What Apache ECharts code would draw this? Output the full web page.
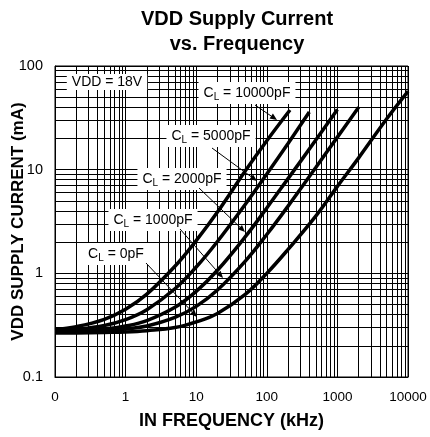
<!DOCTYPE html>
<html>
<head>
<meta charset="utf-8">
<script src="https://cdn.jsdelivr.net/npm/echarts@6/dist/echarts.min.js"></script>
<style>
  html, body { margin: 0; padding: 0; background: #fff; }
  #main { width: 430px; height: 437px; }
</style>
</head>
<body>
<div id="main"></div>
<script>
const FONT = '"Liberation Sans", Arial, sans-serif'

// 读图估计的曲线数据 (kHz, mA)
const freq10000 = [0.1, 0.2, 0.5, 1, 2, 5, 10, 20, 50, 100, 213]
const cur10000 = [0.288, 0.306, 0.36, 0.45, 0.63, 1.17, 2.07, 3.9, 9.8, 19, 37.6]
const freq5000 = [0.1, 0.2, 0.5, 1, 2, 5, 10, 20, 50, 100, 200, 400]
const cur5000 = [0.279, 0.288, 0.314, 0.358, 0.446, 0.71, 1.15, 2.03, 4.67, 9.07, 17.9, 36]
const freq2000 = [0.1, 0.2, 0.5, 1, 2, 5, 10, 20, 50, 100, 200, 500, 1000]
const cur2000 = [0.274, 0.278, 0.29, 0.31, 0.35, 0.47, 0.67, 1.07, 2.27, 4.27, 8.2, 19.5, 38]
const freq1000 = [0.1, 0.2, 0.5, 1, 2, 5, 10, 20, 50, 100, 200, 500, 1000, 2000]
const cur1000 = [0.27, 0.274, 0.28, 0.29, 0.31, 0.375, 0.48, 0.69, 1.32, 2.37, 4.45, 10.6, 20.6, 40]
const freq0 = [0.1, 0.2, 0.5, 1, 2, 5, 10, 20, 50, 100, 200, 500, 1000, 2000, 5000, 10000]
const cur0 = [0.265, 0.266, 0.269, 0.272, 0.28, 0.3, 0.34, 0.41, 0.63, 1.0, 1.7, 3.6, 6.9, 13, 31, 57]

// 对数网格的次刻度
const minorDigits = [2, 3, 4, 5, 6, 7, 8, 9]
const xDecades = [0.1, 1, 10, 100, 1000]
const yDecades = [0.1, 1, 10]

const curves = [
  { name: 'CL = 10000pF', f: freq10000, i: cur10000 },
  { name: 'CL = 5000pF', f: freq5000, i: cur5000 },
  { name: 'CL = 2000pF', f: freq2000, i: cur2000 },
  { name: 'CL = 1000pF', f: freq1000, i: cur1000 },
  { name: 'CL = 0pF', f: freq0, i: cur0 }
]

const minorLines = []
xDecades.forEach(d => minorDigits.forEach(m => minorLines.push({ xAxis: +(d * m).toPrecision(3) })))
yDecades.forEach(d => minorDigits.forEach(m => minorLines.push({ yAxis: +(d * m).toPrecision(3) })))

// 标注文字
function capLabel(value, cx, cy) {
  return {
    type: 'text',
    x: cx,
    y: cy,
    z: 100,
    style: {
      text: '{c|C}{s|L}{c| = ' + value + '}',
      align: 'center',
      verticalAlign: 'middle',
      backgroundColor: '#fff',
      padding: [2, 5, 2, 5],
      rich: {
        c: { fontFamily: FONT, fontSize: 14, lineHeight: 18, fill: '#000' },
        s: { fontFamily: FONT, fontSize: 10, lineHeight: 11, fill: '#000', verticalAlign: 'bottom' }
      }
    }
  }
}

function arrow(x1, y1, x2, y2) {
  const a = Math.atan2(y2 - y1, x2 - x1)
  const len = 7
  const w = 3
  const bx = x2 - len * Math.cos(a)
  const by = y2 - len * Math.sin(a)
  return [
    { type: 'line', z: 100, shape: { x1: x1, y1: y1, x2: bx, y2: by }, style: { stroke: '#000', lineWidth: 1 } },
    {
      type: 'polygon',
      z: 100,
      shape: {
        points: [
          [x2, y2],
          [bx + w * Math.sin(a), by - w * Math.cos(a)],
          [bx - w * Math.sin(a), by + w * Math.cos(a)]
        ]
      },
      style: { fill: '#000' }
    }
  ]
}

const graphics = [
  {
    type: 'text',
    x: 107,
    y: 82,
    z: 100,
    style: {
      text: 'VDD = 18V',
      font: '14px ' + FONT,
      fill: '#000',
      align: 'center',
      verticalAlign: 'middle',
      backgroundColor: '#fff',
      padding: [1, 5, 1, 5]
    }
  },
  capLabel('10000pF', 247, 93),
  capLabel('5000pF', 211, 136),
  capLabel('2000pF', 182, 179),
  capLabel('1000pF', 153, 220),
  capLabel('0pF', 116, 254)
].concat(
  arrow(255, 105, 277, 120),
  arrow(212, 148, 257, 181),
  arrow(199, 188, 245, 232),
  arrow(180, 229, 223, 278),
  arrow(146, 263, 197, 317)
)

const series = curves.map(c => ({
  name: c.name,
  type: 'line',
  z: 5,
  showSymbol: false,
  smooth: 0.4,
  lineStyle: { color: '#000', width: 3.5 },
  data: c.f.map((f, k) => [f, c.i[k]])
}))

series.push({
  type: 'line',
  z: 1,
  data: [],
  markLine: {
    silent: true,
    symbol: 'none',
    label: { show: false },
    lineStyle: { color: '#000', width: 1, type: 'solid' },
    emphasis: { disabled: true },
    animation: false,
    data: minorLines
  }
})

const myChart = echarts.init(document.getElementById('main'))
const option = {
  animation: false,
  backgroundColor: '#fff',
  title: {
    text: 'VDD Supply Current\nvs. Frequency',
    left: 232,
    top: 2,
    textAlign: 'center',
    textStyle: { fontFamily: FONT, fontSize: 20, fontWeight: 'bold', color: '#000', lineHeight: 25 }
  },
  grid: {
    left: 55,
    right: 22,
    top: 66,
    bottom: 60,
    containLabel: false,
    outerBoundsMode: 'none',
    show: true,
    borderColor: '#000',
    borderWidth: 1
  },
  xAxis: {
    type: 'log',
    logBase: 10,
    min: 0.1,
    max: 10000,
    name: 'IN FREQUENCY (kHz)',
    nameLocation: 'middle',
    nameGap: 35,
    nameMoveOverlap: false,
    nameTextStyle: { fontFamily: FONT, fontSize: 18, fontWeight: 'bold', color: '#000' },
    axisLine: { lineStyle: { color: '#000', width: 1 } },
    axisTick: { show: false },
    axisLabel: {
      margin: 13,
      fontFamily: FONT,
      fontSize: 13.5,
      color: '#000',
      formatter: v => (v < 1 ? '0' : String(v))
    },
    splitLine: { show: true, lineStyle: { color: '#000', width: 1 } }
  },
  yAxis: {
    type: 'log',
    logBase: 10,
    min: 0.1,
    max: 100,
    name: 'VDD SUPPLY CURRENT (mA)',
    nameLocation: 'middle',
    nameGap: 28,
    nameMoveOverlap: false,
    nameTextStyle: { fontFamily: FONT, fontSize: 17, fontWeight: 'bold', color: '#000' },
    axisLine: { lineStyle: { color: '#000', width: 1 } },
    axisTick: { show: false },
    axisLabel: { margin: 12, fontFamily: FONT, fontSize: 14.5, color: '#000' },
    splitLine: { show: true, lineStyle: { color: '#000', width: 1 } }
  },
  graphic: graphics,
  series: series
}
myChart.setOption(option)
</script>
</body>
</html>
